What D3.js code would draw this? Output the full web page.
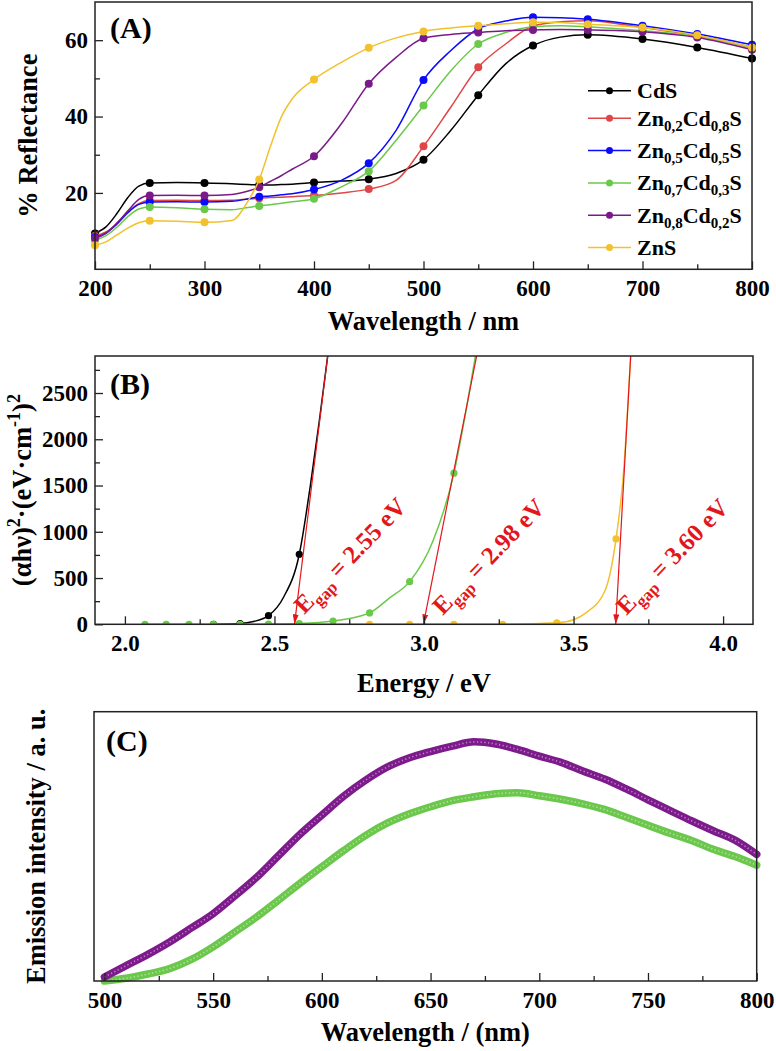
<!DOCTYPE html>
<html><head><meta charset="utf-8">
<script src="https://cdn.jsdelivr.net/npm/d3@7"></script>
<style>
html,body{margin:0;padding:0;background:#fff;}
</style></head>
<body><svg id="chart" width="776" height="1051"></svg>
<script>
// ---------- Panel A: reflectance ----------
const wlA = [200,210,220,230,240,250,275,300,325,340,350,360,370,380,400,425,450,475,500,525,550,575,600,625,650,700,750,800];
const refCdS   = [9.4,11.1,14.6,18.8,21.8,22.6,22.7,22.6,22.4,22.2,22.1,22.1,22.2,22.3,22.7,23.1,23.6,25.1,28.7,36.4,45.6,53.8,58.6,60.8,61.4,60.3,58.1,55.2];
const refZn02  = [8.8,9.8,12.0,15.0,17.2,18.0,18.1,18.0,18.1,18.4,18.6,18.8,18.9,19.0,19.3,20.0,21.0,23.3,32.2,42.5,52.9,59.0,63.7,64.8,65.1,63.3,61.2,58.1];
const refZn05  = [8.4,9.5,11.8,14.8,17.0,17.6,17.7,17.6,17.8,18.5,19.0,19.2,19.5,19.8,20.9,23.3,27.8,36.4,49.6,57.3,63.0,65.0,66.0,65.9,65.5,63.8,61.6,58.8];
const refZn07  = [7.6,8.8,11.0,13.8,15.8,16.3,16.1,15.7,15.6,16.2,16.6,16.9,17.3,17.7,18.5,21.6,25.7,33.8,42.9,52.0,59.0,62.0,63.5,63.8,63.5,62.5,61.0,57.9];
const refZn08  = [8.1,9.4,12.1,15.3,18.3,19.3,19.4,19.3,19.6,20.5,21.5,23.0,24.5,26.2,29.6,38.1,48.6,55.5,60.5,61.5,62.0,62.5,62.7,62.8,62.7,62.2,60.7,57.5];
const refZnS   = [6.3,7.2,9.0,10.8,12.2,12.7,12.6,12.3,12.8,18.0,23.5,32.0,39.8,44.6,49.7,54.2,58.0,60.6,62.3,63.2,63.8,64.3,64.7,64.6,64.2,63.3,61.3,58.1];
const namesA = [["CdS"],["Zn","0,2","Cd","0,8","S"],["Zn","0,5","Cd","0,5","S"],["Zn","0,7","Cd","0,3","S"],["Zn","0,8","Cd","0,2","S"],["ZnS"]];
const xTicksA = [200,300,400,500,600,700,800];
const xMinorA = [250,350,450,550,650,750];
const yTicksA = [20,40,60];
const yMinorA = [10,30,50];

// ---------- Panel B: Tauc plot ----------
const cdsLineE = [2.297,2.385,2.43,2.48,2.53,2.583,2.62,2.65,2.678];
const cdsLineV = [0,8,30,93,290,757,1500,2200,2900];
const cdsMarkE = [2.296,2.385,2.48,2.583];
const cdsMarkV = [0,8,93,757];
const zn07LineE = [2.067,2.138,2.214,2.296,2.385,2.48,2.583,2.696,2.818,2.883,2.952,3.03,3.1,3.14,3.172];
const zn07LineV = [0,0,0,0,0,2,8,35,123,280,461,900,1634,2300,2900];
const zn07MarkE = [2.067,2.138,2.214,2.296,2.385,2.48,2.583,2.696,2.818,2.952,3.1];
const zn07MarkV = [0,0,0,0,0,2,8,35,123,461,1634];
const znsLineE = [2.48,2.7,2.9,3.1,3.263,3.444,3.5,3.539,3.606,3.642,3.667,3.691];
const znsLineV = [0,0,0,0,0,17,50,119,371,923,1634,2900];
const znsMarkE = [2.818,2.952,3.1,3.263,3.444,3.642];
const znsMarkV = [0,0,0,0,17,923];
const gapTopE = [2.678,3.176,3.691];
const gapBotE = [2.567,2.998,3.641];
const gapText = ["2.55","2.98","3.60"];
const gapLabelE = [2.60,3.063,3.677];
const gapLabelV = [100,90,90];
const xTicksB = [2.0,2.5,3.0,3.5,4.0];
const xMinorB = [2.25,2.75,3.25,3.75];
const yTicksB = [0,500,1000,1500,2000,2500];
const yMinorB = [250,750,1250,1750,2250,2750];

// ---------- Panel C: emission ----------
const wlC = [500,510,520,530,540,550,560,570,580,590,600,610,620,630,640,650,660,670,680,690,700,710,720,730,740,750,760,770,780,790,800];
const emZn08 = [1.5,5.7,9.9,14.5,19.7,25.0,31.6,38.5,46.5,54.5,61.6,68.6,74.5,79.4,82.8,85.2,87.2,88.8,88.0,86.0,83.5,81.2,78.0,75.0,71.3,67.3,63.4,59.5,55.8,52.3,47.0];
const emZn07 = [0,1.0,2.6,4.6,8.0,12.7,18.2,23.8,30.0,36.3,42.4,48.4,54.0,58.6,62.0,64.7,67.0,68.4,69.5,69.9,68.8,67.5,65.8,63.7,60.8,57.8,54.9,52.2,48.9,46.2,43.0];
const xTicksC = [500,550,600,650,700,750,800];
const xMinorC = [525,575,625,675,725,775];

// ---------- styles ----------
const colorsA = ["#000000","#e04646","#0a0aff","#6ac94a","#7a1a8a","#f2c12e"];
const RED = "#e3161c";
const FONT = "Liberation Serif";

const svg = d3.select("#chart");
svg.append("rect").attr("width",776).attr("height",1051).attr("fill","#fff");
svg.append("defs").append("marker").attr("id","arr").attr("viewBox","0 0 10 6")
  .attr("refX",10).attr("refY",3).attr("markerWidth",10).attr("markerHeight",6)
  .attr("markerUnits","userSpaceOnUse").attr("orient","auto")
  .append("path").attr("d","M0,0 L10,3 L0,6 Z").attr("fill",RED);

const TICKFS = 23, TITLEFS = 26.5;

function axes(g, x, y, o) {
  const xb = g.append("g").attr("transform",`translate(0,${o.y1})`);
  xb.call(d3.axisBottom(x).tickValues(o.xt).tickSize(-8).tickSizeOuter(0).tickPadding(10.5).tickFormat(o.xf));
  xb.append("g").call(d3.axisBottom(x).tickValues(o.xm).tickSize(-5).tickSizeOuter(0).tickFormat(""));
  if (o.yt) {
    const yl = g.append("g").attr("transform",`translate(${o.x0},0)`);
    yl.call(d3.axisLeft(y).tickValues(o.yt).tickSize(-8).tickSizeOuter(0).tickPadding(7).tickFormat(o.yf));
    yl.append("g").call(d3.axisLeft(y).tickValues(o.ym).tickSize(-5).tickSizeOuter(0).tickFormat(""));
  }
  g.selectAll(".domain").remove();
  g.selectAll(".tick line").attr("stroke","#222").attr("stroke-width",1.3);
  g.selectAll(".tick text").style("font-size",TICKFS+"px").attr("fill","#000");
  g.append("rect").attr("x",o.x0).attr("y",o.y0).attr("width",o.x1-o.x0).attr("height",o.y1-o.y0)
    .attr("fill","none").attr("stroke","#222").attr("stroke-width",1.5);
}

// ===== Panel A =====
{
  const L=95,R=752,T=2,B=269.3;
  const x = d3.scaleLinear().domain([200,800]).range([L,R]);
  const y = d3.scaleLinear().domain([0,70]).range([B,T]);
  const g = svg.append("g");
  const series = [refCdS,refZn02,refZn05,refZn07,refZn08,refZnS];
  const line = d3.line().x(d=>x(d[0])).y(d=>y(d[1])).curve(d3.curveMonotoneX);
  series.forEach((vals,i)=>{
    const pts = wlA.map((w,k)=>[w,vals[k]]);
    g.append("path").datum(pts).attr("d",line).attr("fill","none").attr("stroke",colorsA[i]).attr("stroke-width",1.5);
    g.selectAll(null).data(pts.filter(p=>p[0]%50===0)).enter().append("circle")
      .attr("cx",d=>x(d[0])).attr("cy",d=>y(d[1])).attr("r",4).attr("fill",colorsA[i]);
  });
  axes(g,x,y,{x0:L,x1:R,y0:T,y1:B,xt:xTicksA,xm:xMinorA,xf:d3.format("d"),yt:yTicksA,ym:yMinorA,yf:d3.format("d")});
  g.append("text").attr("x",110).attr("y",38).style("font-size","30px").text("(A)");
  g.append("text").attr("x",(L+R)/2).attr("y",330).attr("text-anchor","middle").style("font-size",TITLEFS+"px").text("Wavelength / nm");
  g.append("text").attr("transform",`translate(37,${(T+B)/2}) rotate(-90)`).attr("text-anchor","middle").style("font-size",TITLEFS+"px").text("% Reflectance");
  // legend
  namesA.forEach((parts,i)=>{
    const ly = i===0 ? 90.7 : 86 + i*32.3;
    g.append("line").attr("x1",588).attr("x2",631).attr("y1",ly).attr("y2",ly).attr("stroke",colorsA[i]).attr("stroke-width",1.5);
    g.append("circle").attr("cx",609.5).attr("cy",ly).attr("r",3.5).attr("fill",colorsA[i]);
    const t = g.append("text").attr("x",637).attr("y",ly+7.5).style("font-size","22px");
    parts.forEach((p,k)=>{
      const sub = k%2===1;
      t.append("tspan").style("font-size",sub?"15px":"22px").attr("dy",sub?5:(k>0?-5:0)).text(p);
    });
  });
}

// ===== Panel B =====
{
  const L=95,R=753,T=356,B=624.3;
  const x = d3.scaleLinear().domain([1.9,4.1]).range([L,R]);
  const y = d3.scaleLinear().domain([0,2900]).range([B,T]);
  const g = svg.append("g");
  const clipId="clipB";
  g.append("clipPath").attr("id",clipId).append("rect").attr("x",L).attr("y",T).attr("width",R-L).attr("height",B-T);
  const line = d3.line().x(d=>x(d[0])).y(d=>y(d[1])).curve(d3.curveMonotoneX);
  const plot = g.append("g").attr("clip-path",`url(#${clipId})`);
  const sets = [
    {lE:znsLineE,lV:znsLineV,mE:znsMarkE,mV:znsMarkV,c:colorsA[5]},
    {lE:cdsLineE,lV:cdsLineV,mE:cdsMarkE,mV:cdsMarkV,c:colorsA[0]},
    {lE:zn07LineE,lV:zn07LineV,mE:zn07MarkE,mV:zn07MarkV,c:colorsA[3]}
  ];
  sets.forEach(s=>{
    plot.append("path").datum(s.lE.map((e,k)=>[e,s.lV[k]])).attr("d",line).attr("fill","none").attr("stroke",s.c).attr("stroke-width",1.5);
  });
  sets.forEach(s=>{
    plot.selectAll(null).data(s.mE.map((e,k)=>[e,s.mV[k]])).enter().append("circle")
      .attr("cx",d=>x(d[0])).attr("cy",d=>y(d[1])).attr("r",3.6).attr("fill",s.c);
  });
  gapTopE.forEach((e,i)=>{
    g.append("line").attr("x1",x(e)).attr("y1",y(2900)).attr("x2",x(gapBotE[i])).attr("y2",y(0))
      .attr("stroke",RED).attr("stroke-width",1.2).attr("marker-end","url(#arr)");
    const t = g.append("text").attr("class","red").attr("transform",`translate(${x(gapLabelE[i])},${y(gapLabelV[i])}) rotate(-46)`)
      .style("font-size","25px");
    t.append("tspan").text("E");
    t.append("tspan").style("font-size","17px").attr("dy",6).text("gap");
    t.append("tspan").attr("dy",-6).text(" = "+gapText[i]+" eV");
  });
  axes(g,x,y,{x0:L,x1:R,y0:T,y1:B,xt:xTicksB,xm:xMinorB,xf:d3.format(".1f"),yt:yTicksB,ym:yMinorB,yf:d3.format("d")});
  g.append("text").attr("x",110).attr("y",394).style("font-size","30px").text("(B)");
  g.append("text").attr("x",(L+R)/2).attr("y",692).attr("text-anchor","middle").style("font-size",TITLEFS+"px").text("Energy / eV");
  const yt = g.append("text").attr("transform",`translate(31,${(T+B)/2}) rotate(-90)`).attr("text-anchor","middle").style("font-size",TITLEFS+"px");
  yt.append("tspan").text("(\u03B1h\u03BD)");
  yt.append("tspan").style("font-size","18px").attr("dy",-11).text("2");
  yt.append("tspan").attr("dy",11).text("\u00B7(eV\u00B7cm");
  yt.append("tspan").style("font-size","18px").attr("dy",-11).text("-1");
  yt.append("tspan").attr("dy",11).text(")");
  yt.append("tspan").style("font-size","18px").attr("dy",-11).text("2");
}

// ===== Panel C =====
{
  const L=94,R=756.7,T=711.7,B=981;
  const x = d3.scaleLinear().domain([495.2,800]).range([L,R]);
  const y = d3.scaleLinear().domain([0,100]).range([B,T]);
  const g = svg.append("g");
  const line = d3.line().x(d=>x(d[0])).y(d=>y(d[1])).curve(d3.curveMonotoneX);
  const sets = [{v:emZn07,c:"#6cc84c"},{v:emZn08,c:"#7d1a8c"}];
  sets.forEach(s=>{
    const pts = wlC.map((w,k)=>[w,s.v[k]]);
    g.append("path").datum(pts).attr("d",line).attr("fill","none").attr("stroke",s.c).attr("stroke-width",7.5).attr("stroke-linecap","round");
    g.append("path").datum(pts).attr("d",line).attr("fill","none").attr("stroke","#fff").attr("stroke-opacity",0.45)
      .attr("stroke-width",1.6).attr("stroke-dasharray","1.3,2.4");
  });
  axes(g,x,y,{x0:L,x1:R,y0:T,y1:B,xt:xTicksC,xm:xMinorC,xf:d3.format("d")});
  g.append("text").attr("x",106).attr("y",751).style("font-size","30px").text("(C)");
  g.append("text").attr("x",(L+R)/2).attr("y",1041).attr("text-anchor","middle").style("font-size",TITLEFS+"px").text("Wavelength / (nm)");
  g.append("text").attr("transform",`translate(45,${(T+B)/2}) rotate(-90)`).attr("text-anchor","middle").style("font-size",TITLEFS+"px").text("Emission intensity / a. u.");
}

// fonts applied inline to every text
svg.selectAll("text").style("font-family",FONT).style("font-weight","bold").style("fill","#000");
svg.selectAll("text.red").style("fill",RED);
</script></body></html>
